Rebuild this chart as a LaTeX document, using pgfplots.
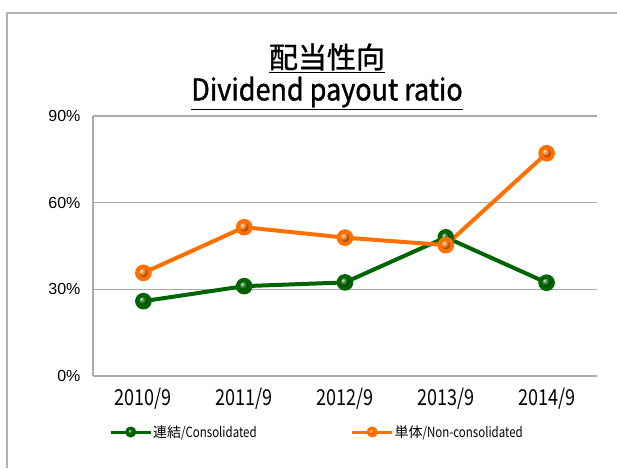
\documentclass[border=0pt]{standalone}
\usepackage{fontspec}
\setmainfont{Liberation Sans}
\newfontfamily\jp{Noto Sans CJK JP}
\newfontfamily\jpn{Noto Sans CJK JP}[FakeStretch=0.82]
\newfontfamily\jpt{Noto Sans CJK JP}[FakeBold=1.2]
\newfontfamily\jptn{Noto Sans CJK JP}[FakeStretch=0.9, FakeBold=1.2]
\usepackage{pgfplots}
\pgfplotsset{compat=1.18}
\definecolor{cgreen}{RGB}{0,100,0}
\definecolor{corange}{RGB}{255,112,0}
\definecolor{gridgray}{RGB}{170,170,170}
\definecolor{framegray}{RGB}{178,178,178}
\begin{document}
\begin{tikzpicture}
\path[use as bounding box] (0pt,0pt) rectangle (617pt,468pt);
\draw[line width=2pt, framegray] (7pt,0pt) -- (7pt,455pt) -- (620pt,455pt);
\node at (327pt,410pt) {\fontsize{29}{29}\selectfont\jpt\underline{配当性向}};
\node at (327pt,375pt) {\fontsize{30}{30}\selectfont\jptn\underline{Dividend payout ratio}};
\begin{axis}[
  at={(93pt,92pt)}, anchor=south west,
  scale only axis, width=504pt, height=260pt,
  xmin=-0.5, xmax=4.5, ymin=0, ymax=90,
  xtick={0,1,2,3,4},
  xticklabels={2010/9,2011/9,2012/9,2013/9,2014/9},
  ytick={0,30,60,90},
  yticklabels={0\%,30\%,60\%,90\%},
  axis x line*=bottom, axis y line*=left,
  axis line style={gridgray, line width=1.2pt, -},
  ymajorgrids, grid style={gridgray, line width=1.2pt},
  major tick length=0pt,
  xticklabel style={font=\fontsize{22}{22}\selectfont\jpn, yshift=-8.5pt},
  yticklabel style={font=\fontsize{16}{16}\selectfont, xshift=-9pt},
  clip=false,
  legend columns=2,
  legend style={at={(axis description cs:0.0318,-0.2154)}, anchor=west,
    draw=none, fill=none, inner sep=0pt,
    font=\fontsize{14}{14}\selectfont\jpn,
    /tikz/every even column/.append style={column sep=93pt},
    nodes={inner sep=1pt}},
  legend image code/.code={\draw[#1, line width=3pt, mark size=4pt, mark repeat=2, mark phase=2] plot coordinates {(0pt,0pt) (20pt,0pt) (40pt,0pt)};},
]
\addplot[cgreen, line width=4pt, line join=round, mark=ball, mark size=6.3pt, mark options={ball color=cgreen}]
  coordinates {(0,25.9) (1,31.1) (2,32.4) (3,48.0) (4,32.3)};
\addlegendentry{{\jp 連結}/Consolidated}
\addplot[corange, line width=4pt, line join=round, mark=ball, mark size=6.3pt, mark options={ball color=corange}]
  coordinates {(0,35.7) (1,51.5) (2,47.9) (3,45.3) (4,77.1)};
\addlegendentry{{\jp 単体}/Non-consolidated}
\end{axis}
\end{tikzpicture}
\end{document}
